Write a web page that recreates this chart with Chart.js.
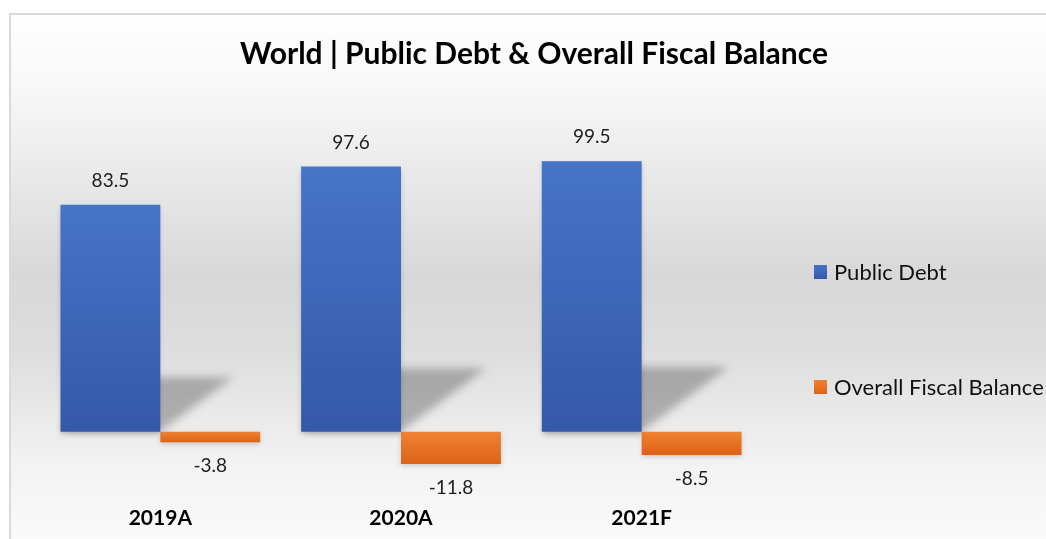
<!DOCTYPE html>
<html>
<head>
<meta charset="utf-8">
<script src="https://cdn.jsdelivr.net/npm/chart.js@4.4.1/dist/chart.umd.min.js"></script>
<style>
  html, body { margin: 0; padding: 0; background: #fff; }
  #wrap { width: 1046px; height: 539px; }
</style>
</head>
<body>
<div id="wrap"><canvas id="fiscalChart" width="1046" height="539"></canvas></div>
<script>
const categories = ['2019A', '2020A', '2021F'];
const publicDebt = [83.5, 97.6, 99.5];
const fiscalBalance = [-3.8, -11.8, -8.5];
const seriesNames = ['Public Debt', 'Overall Fiscal Balance'];
const chartTitle = 'World | Public Debt & Overall Fiscal Balance';

const FONT = 'Lato, Carlito, Calibri, sans-serif';

// top/bottom colours of each series' vertical gradient
const fills = [
    ['#4674c7', '#3459a8'],
    ['#ef8233', '#dc6216']
];

function barGradient(ctx, idx) {
    const chart = ctx.chart;
    if (!chart.chartArea || !chart.scales.y) return fills[idx][0];
    const y = chart.scales.y;
    const v = ctx.raw;
    const top = y.getPixelForValue(Math.max(v, 0));
    const bot = y.getPixelForValue(Math.min(v, 0));
    const g = chart.ctx.createLinearGradient(0, top, 0, bot + 0.01);
    g.addColorStop(0, fills[idx][0]);
    g.addColorStop(1, fills[idx][1]);
    return g;
}

// background panel, frame and heading
const panelPlugin = {
    id: 'panel',
    beforeDraw(chart) {
        const { ctx, width, height } = chart;
        ctx.save();
        const g = ctx.createLinearGradient(0, 14, 0, height);
        g.addColorStop(0, '#ffffff');
        g.addColorStop(0.15, '#f7f7f7');
        g.addColorStop(0.5, '#d8d8d8');
        g.addColorStop(0.65, '#dedede');
        g.addColorStop(0.85, '#f2f2f2');
        g.addColorStop(1, '#fafafa');
        ctx.fillStyle = g;
        ctx.fillRect(10, 14, width - 10, height - 14);
        ctx.fillStyle = '#d9d9d9';
        ctx.fillRect(9, 13, width - 9, 2);
        ctx.fillRect(9, 13, 2, height - 13);

        ctx.fillStyle = '#000000';
        ctx.font = 'bold 30px ' + FONT;
        ctx.textAlign = 'center';
        ctx.textBaseline = 'middle';
        ctx.fillText(chartTitle, 534, 54);
        ctx.restore();
    }
};

// slanted drop shadow behind the debt bars, plus soft edge shadow
const shadowPlugin = {
    id: 'perspectiveShadow',
    beforeDatasetsDraw(chart) {
        const { ctx } = chart;
        const meta = chart.getDatasetMeta(0);
        ctx.save();
        ctx.filter = 'blur(4px)';
        ctx.fillStyle = 'rgba(0,0,0,0.26)';
        meta.data.forEach(bar => {
            const h = bar.base - bar.y;
            const x0 = bar.x - bar.width / 2;
            const x1 = bar.x + bar.width / 2;
            const dx = h * 0.32;
            const sh = h * 0.24;
            ctx.beginPath();
            ctx.moveTo(x0, bar.base);
            ctx.lineTo(x1, bar.base);
            ctx.lineTo(x1 + dx, bar.base - sh);
            ctx.lineTo(x0 + dx, bar.base - sh);
            ctx.closePath();
            ctx.fill();
        });
        ctx.restore();
        ctx.save();
        ctx.shadowColor = 'rgba(0,0,0,0.18)';
        ctx.shadowBlur = 5;
        ctx.shadowOffsetY = 2;
    },
    afterDatasetsDraw(chart) {
        chart.ctx.restore();
    }
};

// value labels above / below each bar
const valueLabels = {
    id: 'valueLabels',
    afterDatasetsDraw(chart) {
        const { ctx } = chart;
        ctx.save();
        ctx.font = '19px ' + FONT;
        ctx.fillStyle = '#1e1e1e';
        ctx.textAlign = 'center';
        ctx.textBaseline = 'middle';
        chart.data.datasets.forEach((ds, di) => {
            chart.getDatasetMeta(di).data.forEach((bar, i) => {
                const v = ds.data[i];
                const y = v >= 0 ? bar.y - 24 : bar.y + 24;
                ctx.fillText(v.toFixed(1), bar.x, y);
            });
        });
        ctx.restore();
    }
};

// legend on the right, items spaced far apart
const sideLegend = {
    id: 'sideLegend',
    afterDraw(chart) {
        const { ctx } = chart;
        const rows = [272, 387];
        ctx.save();
        ctx.font = '22px ' + FONT;
        ctx.textAlign = 'left';
        ctx.textBaseline = 'middle';
        chart.data.datasets.forEach((ds, i) => {
            const cy = rows[i];
            const g = ctx.createLinearGradient(0, cy - 7, 0, cy + 7);
            g.addColorStop(0, fills[i][0]);
            g.addColorStop(1, fills[i][1]);
            ctx.fillStyle = g;
            ctx.fillRect(814, cy - 7, 13, 14);
            ctx.fillStyle = '#111111';
            ctx.fillText(ds.label, 834, cy + 1);
        });
        ctx.restore();
    }
};

new Chart(document.getElementById('fiscalChart'), {
    type: 'bar',
    data: {
        labels: categories,
        datasets: [
            { label: seriesNames[0], data: publicDebt, backgroundColor: c => barGradient(c, 0) },
            { label: seriesNames[1], data: fiscalBalance, backgroundColor: c => barGradient(c, 1) }
        ]
    },
    options: {
        responsive: false,
        animation: false,
        devicePixelRatio: 1,
        layout: { padding: { left: 40, right: 284, top: 160, bottom: 2 } },
        datasets: { bar: { categoryPercentage: 0.83, barPercentage: 1.0 } },
        plugins: {
            legend: { display: false },
            title: { display: false },
            tooltip: { enabled: false }
        },
        scales: {
            x: {
                grid: { display: false, drawTicks: false },
                border: { display: false },
                ticks: {
                    padding: 6,
                    color: '#000000',
                    font: { family: FONT, size: 21, weight: 'bold' }
                }
            },
            y: {
                display: false,
                min: -25,
                max: 100
            }
        }
    },
    plugins: [panelPlugin, shadowPlugin, valueLabels, sideLegend]
});
</script>
</body>
</html>
